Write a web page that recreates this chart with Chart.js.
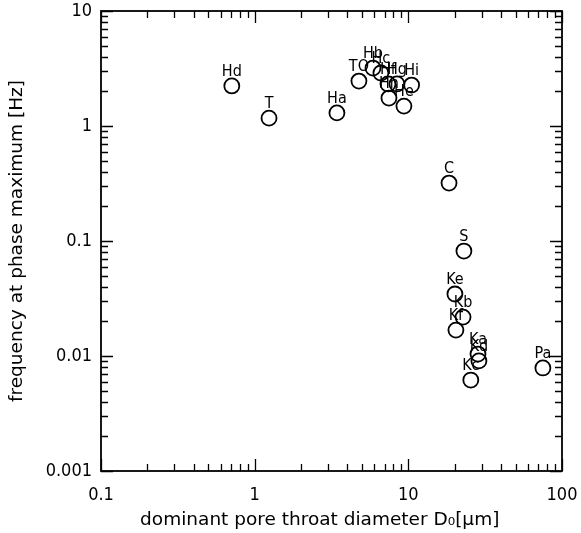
<!DOCTYPE html>
<html>
<head>
<meta charset="utf-8">
<script src="https://cdn.jsdelivr.net/npm/chart.js@4/dist/chart.umd.min.js"></script>
<style>
    html, body { margin: 0; padding: 0; background: #ffffff; }
    #wrap { width: 581px; height: 533px; }
</style>
</head>
<body>
<div id="wrap"><canvas id="poreChart"></canvas></div>
<script>
// sample names, dominant pore throat diameter [um], frequency at phase maximum [Hz]
const sampleNames = ["Hd", "T", "Ha", "TO", "Hb", "Hc", "Hf", "Hg", "Hi", "Hh", "He",
    "C", "S", "Ke", "Kb", "Kf", "Ka", "Kd", "Kc", "Pa"];
const diameters = [0.71, 1.24, 3.43, 4.77, 5.89, 6.63, 7.37, 8.43, 10.5, 7.48, 9.36,
    18.4, 23.0, 20.1, 22.7, 20.4, 28.4, 28.8, 25.5, 75.1];
const frequencies = [2.23, 1.17, 1.30, 2.46, 3.19, 2.89, 2.32, 2.32, 2.27, 1.75, 1.49,
    0.319, 0.0818, 0.0346, 0.0218, 0.0168, 0.0104, 0.00906, 0.00618, 0.00787];

const xTicks = [0.1, 1, 10, 100];
const xTickLabels = ["0.1", "1", "10", "100"];
const yTicks = [0.001, 0.01, 0.1, 1, 10];
const yTickLabels = ["0.001", "0.01", "0.1", "1", "10"];

const FONT = "'DejaVu Sans Condensed', 'DejaVu Sans', sans-serif";
const TITLE_FONT = "'DejaVu Sans', sans-serif";
const INK = "#000000";

// inside ticks on all four sides plus the frame
const frameTicks = {
    id: "frameTicks",
    afterDraw(chart) {
        const { ctx, chartArea: a, scales: { x, y } } = chart;
        ctx.save();
        ctx.strokeStyle = INK;
        ctx.lineWidth = 1.8;
        ctx.strokeRect(a.left, a.top, a.right - a.left, a.bottom - a.top);

        ctx.lineWidth = 1.3;
        ctx.beginPath();
        logSteps(x.min, x.max).forEach((s) => {
            const px = Math.round(x.getPixelForValue(s.value)) + 0.5;
            const len = s.major ? 12 : 7;
            ctx.moveTo(px, a.bottom); ctx.lineTo(px, a.bottom - len);
            ctx.moveTo(px, a.top); ctx.lineTo(px, a.top + len);
        });
        logSteps(y.min, y.max).forEach((s) => {
            const py = Math.round(y.getPixelForValue(s.value)) + 0.5;
            const len = s.major ? 12 : 7;
            ctx.moveTo(a.left, py); ctx.lineTo(a.left + len, py);
            ctx.moveTo(a.right, py); ctx.lineTo(a.right - len, py);
        });
        ctx.stroke();
        ctx.restore();
    }
};

// sample names above the circles
const pointNames = {
    id: "pointNames",
    afterDatasetsDraw(chart) {
        const { ctx } = chart;
        const meta = chart.getDatasetMeta(0);
        ctx.save();
        ctx.font = "16px " + FONT;
        ctx.fillStyle = INK;
        ctx.textAlign = "center";
        ctx.textBaseline = "alphabetic";
        meta.data.forEach((pt, i) => {
            ctx.fillText(sampleNames[i], pt.x, pt.y - 10);
        });
        ctx.restore();
    }
};

function logSteps(min, max) {
    const out = [];
    const lo = Math.round(Math.log10(min));
    const hi = Math.round(Math.log10(max));
    for (let d = lo; d <= hi; d++) {
        for (let m = 1; m <= 9; m++) {
            const v = m * Math.pow(10, d);
            if (v >= min * 0.999 && v <= max * 1.001) {
                out.push({ value: v, major: m === 1 });
            }
        }
    }
    return out;
}

const points = diameters.map((d, i) => ({ x: d, y: frequencies[i] }));

new Chart(document.getElementById("poreChart"), {
    type: "scatter",
    data: {
        datasets: [{
            data: points,
            pointRadius: 7.5,
            pointHoverRadius: 7.5,
            pointBorderWidth: 1.8,
            pointBorderColor: INK,
            pointBackgroundColor: "rgba(0,0,0,0)"
        }]
    },
    options: {
        responsive: true,
        maintainAspectRatio: false,
        animation: false,
        events: [],
        layout: { padding: { left: 0, right: 19, top: 11, bottom: 0 } },
        plugins: {
            legend: { display: false },
            tooltip: { enabled: false }
        },
        scales: {
            x: {
                type: "logarithmic",
                min: 0.1,
                max: 100,
                grid: { display: false, drawTicks: false },
                border: { display: false },
                afterBuildTicks: (scale) => { scale.ticks = xTicks.map((v) => ({ value: v })); },
                afterFit: (scale) => {
                    scale.height = 62;
                    scale.paddingLeft = 0;
                    scale.paddingRight = 0;
                },
                ticks: {
                    color: INK,
                    padding: 14,
                    maxRotation: 0,
                    autoSkip: false,
                    font: { family: FONT, size: 18 },
                    callback: (v) => xTickLabels[xTicks.indexOf(v)]
                },
                title: {
                    display: true,
                    // trailing spaces pull the centred title a little left, as in the source
                    text: "dominant pore throat diameter D\u2080[\u03bcm]\u00a0\u00a0\u00a0\u00a0",
                    color: INK,
                    padding: { top: 0, bottom: 2 },
                    font: { family: TITLE_FONT, size: 18.5 }
                }
            },
            y: {
                type: "logarithmic",
                min: 0.001,
                max: 10,
                grid: { display: false, drawTicks: false },
                border: { display: false },
                afterBuildTicks: (scale) => { scale.ticks = yTicks.map((v) => ({ value: v })); },
                afterFit: (scale) => {
                    scale.width = 101;
                    scale.paddingTop = 0;
                    scale.paddingBottom = 0;
                },
                ticks: {
                    color: INK,
                    padding: 9,
                    autoSkip: false,
                    font: { family: FONT, size: 18 },
                    callback: (v) => yTickLabels[yTicks.indexOf(v)]
                },
                title: {
                    display: true,
                    text: "frequency at phase maximum [Hz]",
                    color: INK,
                    padding: { top: 6, bottom: 0 },
                    font: { family: TITLE_FONT, size: 18.5 }
                }
            }
        }
    },
    plugins: [frameTicks, pointNames]
});
</script>
</body>
</html>
